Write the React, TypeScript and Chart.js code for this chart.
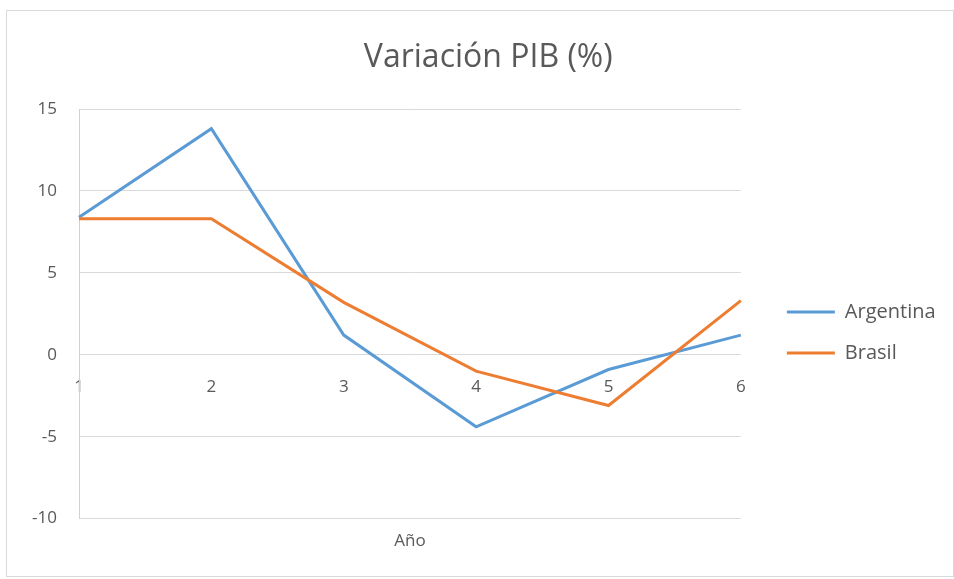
import React, { useEffect, useRef } from "react";
import { Chart, registerables } from "chart.js";

Chart.register(...registerables);

const years = ["1", "2", "3", "4", "5", "6"];
const argentina = [8.4, 13.8, 1.2, -4.4, -0.9, 1.2];
const brasil = [8.3, 8.3, 3.2, -1.0, -3.1, 3.3];
const yTicks = { min: -10, max: 15, step: 5 };

const FONT = "'Open Sans', 'Noto Sans', sans-serif";
const TEXT = "#595959";

// Let the right-hand legend take the width it needs (Chart.js otherwise caps it).
const widenLegend = {
  id: "widenLegend",
  beforeLayout(chart: any) {
    const lg = chart.legend;
    if (lg && !lg.__wide) {
      const orig = lg.update.bind(lg);
      lg.update = (w: number, h: number, m: any) => orig(Math.max(w, 300), h, m);
      lg.__wide = true;
    }
  },
};

export default function App() {
  const ref = useRef<HTMLCanvasElement | null>(null);

  useEffect(() => {
    if (!ref.current) return;
    const chart = new Chart(ref.current, {
      type: "line",
      plugins: [widenLegend],
      data: {
        labels: years,
        datasets: [
          {
            label: "Argentina",
            data: argentina,
            borderColor: "#5B9BD5",
            backgroundColor: "#5B9BD5",
            borderWidth: 3,
            pointRadius: 0,
            tension: 0,
            fill: false,
            order: 1,
          },
          {
            label: "Brasil",
            data: brasil,
            borderColor: "#ED7D31",
            backgroundColor: "#ED7D31",
            borderWidth: 3,
            pointRadius: 0,
            tension: 0,
            fill: false,
            order: 0,
          },
        ],
      },
      options: {
        responsive: false,
        maintainAspectRatio: false,
        animation: false,
        layout: { padding: { left: 24, right: 7.4, top: 0, bottom: 0 } },
        plugins: {
          tooltip: { enabled: false },
          title: {
            display: true,
            text: "Variación PIB (%)",
            color: TEXT,
            font: { family: FONT, size: 32, weight: "normal" },
            padding: { top: 28, bottom: 31.6 },
          },
          subtitle: {
            display: true,
            position: "bottom",
            fullSize: false,
            text: "Año",
            color: TEXT,
            font: { family: FONT, size: 17, weight: "normal" },
            padding: { top: 12, bottom: 25 },
          },
          legend: {
            display: true,
            position: "right",
            align: "center",
            title: {
              display: true,
              text: " ",
              font: { family: FONT, size: 10 },
              padding: 33,
            },
            labels: {
              color: TEXT,
              font: { family: FONT, size: 20 },
              usePointStyle: true,
              pointStyle: "line",
              pointStyleWidth: 48,
              padding: 21,
              sort: (a: any, b: any) => a.datasetIndex - b.datasetIndex,
            },
          },
        },
        scales: {
          x: {
            type: "category",
            position: { y: 0 } as any,
            offset: false,
            grid: { display: false, drawTicks: false },
            border: { display: false },
            ticks: {
              color: TEXT,
              font: { family: FONT, size: 17 },
              padding: 22,
              maxRotation: 0,
            },
          },
          y: {
            type: "linear",
            position: "left",
            min: yTicks.min,
            max: yTicks.max,
            afterFit: (s: any) => {
              s.width = 48;
            },
            grid: { color: "#d9d9d9", lineWidth: 1, drawTicks: false },
            border: { display: true, color: "#d0d0d0", width: 1 },
            ticks: {
              stepSize: yTicks.step,
              color: TEXT,
              font: { family: FONT, size: 17 },
              padding: 22,
            },
          },
          gap: {
            type: "linear",
            position: "right",
            display: true,
            grid: { display: false, drawTicks: false },
            border: { display: false },
            ticks: { display: false },
            afterFit: (s: any) => {
              s.width = 25;
            },
          },
        },
      },
    });
    return () => chart.destroy();
  }, []);

  return (
    <div
      style={{
        position: "fixed",
        left: 6,
        top: 10,
        width: 948,
        height: 567,
        boxSizing: "border-box",
        border: "1px solid #d9d9d9",
        background: "#fff",
      }}
    >
      <canvas ref={ref} width={946} height={565} style={{ display: "block" }} />
    </div>
  );
}
